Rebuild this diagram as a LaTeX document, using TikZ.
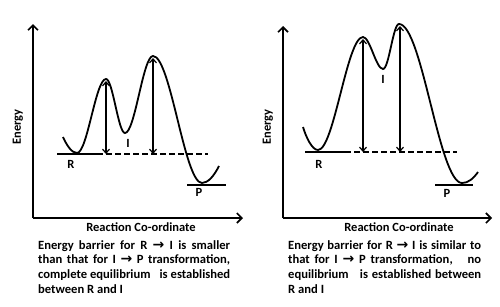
\documentclass[tikz,border=0pt]{standalone}
\usepackage{fontspec}
\setmainfont{Carlito}
\newfontfamily\symf{DejaVu Sans}
\usetikzlibrary{arrows.meta}
\newcommand{\ra}{{\symf\bfseries\fontsize{14}{14}\selectfont →}}
\tikzset{
  axis/.style={line width=1.6pt, -{Straight Barb[length=5pt,width=10pt]}},
  curve/.style={line width=1.8pt},
  level/.style={line width=1.3pt},
  dlevel/.style={line width=1.3pt, dash pattern=on 6pt off 3pt},
  barrier/.style={line width=1.2pt, {Straight Barb[length=4pt,width=7pt]}-{Straight Barb[length=4pt,width=7pt]}},
  lbl/.style={font=\bfseries\fontsize{12.5}{14}\selectfont, inner sep=0pt},
  caption/.style={font=\bfseries\fontsize{12.6}{14.7}\selectfont, inner sep=0pt, anchor=north west, align=left},
}
\begin{document}
\begin{tikzpicture}[x=1pt,y=-1pt]
\useasboundingbox (0,0) rectangle (500,306);
% ---------- Left panel ----------
\coordinate (ly0) at (33,218);
\coordinate (ly1) at (33,24);
\coordinate (lx1) at (243,218);
\draw[axis] (ly0) -- (ly1);
\draw[axis] (ly0) -- (lx1);
\node[lbl, rotate=90] (lE) at (18,127) {Energy};
\node[lbl] (lRC) at (141,227) {Reaction Co-ordinate};
\draw[curve] (63,137) .. controls (67,146) and (72,153) .. (77,153)
  .. controls (87.4,153) and (95.6,79) .. (106,79)
  .. controls (112.8,79) and (118.2,133) .. (125,133)
  .. controls (135,133) and (143,56) .. (153,56)
  .. controls (170.6,56) and (184.4,183) .. (202,183)
  .. controls (208,183) and (214,176) .. (219,166);
\coordinate (lRa) at (57,154);
\coordinate (lRb) at (97,154);
\coordinate (lRc) at (208,154);
\draw[level] (lRa) -- (lRb);
\draw[dlevel] (lRb) -- (lRc);
\coordinate (lPa) at (187,185);
\coordinate (lPb) at (226,185);
\draw[level] (lPa) -- (lPb);
\node[lbl] (lR) at (71,164) {R};
\node[lbl] (lI) at (128,143) {I};
\node[lbl] (lP) at (199,192) {P};
\coordinate (la1t) at (106,81);
\coordinate (la1b) at (106,154);
\coordinate (la2t) at (153,58);
\coordinate (la2b) at (153,154);
\draw[barrier] (la1t) -- (la1b);
\draw[barrier] (la2t) -- (la2b);
\node[caption] (lT) at (38,240) {%
\makebox[192pt][s]{Energy barrier for R \ra\ I is smaller}\\
\makebox[192pt][s]{than that for I \ra\ P transformation,}\\
\makebox[192pt][s]{complete equilibrium \ \ is established}\\
between R and I};
% ---------- Right panel ----------
\coordinate (ry0) at (283,218);
\coordinate (ry1) at (283,26);
\coordinate (rx1) at (492,218);
\draw[axis] (ry0) -- (ry1);
\draw[axis] (ry0) -- (rx1);
\node[lbl, rotate=90] (rE) at (268,127) {Energy};
\node[lbl] (rRC) at (399,227) {Reaction Co-ordinate};
\draw[curve] (303,127) .. controls (306,137) and (312,150) .. (318,150)
  .. controls (334,150) and (347,37) .. (363,37)
  .. controls (370,37) and (376,69) .. (383,69)
  .. controls (389,69) and (393,24) .. (399,24)
  .. controls (422,24) and (439,183) .. (462,183)
  .. controls (468,183) and (473,179) .. (478,172);
\coordinate (rRa) at (305,152);
\coordinate (rRb) at (345,152);
\coordinate (rRc) at (457,152);
\draw[level] (rRa) -- (rRb);
\draw[dlevel] (rRb) -- (rRc);
\coordinate (rPa) at (435,185);
\coordinate (rPb) at (473,185);
\draw[level] (rPa) -- (rPb);
\node[lbl] (rR) at (319,164) {R};
\node[lbl] (rI) at (383,79) {I};
\node[lbl] (rP) at (447,193) {P};
\coordinate (ra1t) at (363,39);
\coordinate (ra1b) at (363,152);
\coordinate (ra2t) at (400,26);
\coordinate (ra2b) at (400,152);
\draw[barrier] (ra1t) -- (ra1b);
\draw[barrier] (ra2t) -- (ra2b);
\node[caption] (rT) at (288,240) {%
\makebox[193pt][s]{Energy barrier for R \ra\ I is similar to}\\
\makebox[193pt][s]{that for I \ra\ P transformation, \ \ no}\\
\makebox[193pt][s]{equilibrium \ \ is established between}\\
R and I};
\end{tikzpicture}
\end{document}
